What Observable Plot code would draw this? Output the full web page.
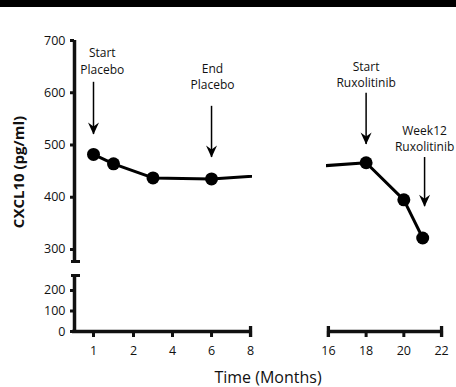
<!DOCTYPE html>
<html><head><meta charset="utf-8">
<script src="https://cdn.jsdelivr.net/npm/d3@7"></script>
<script src="https://cdn.jsdelivr.net/npm/@observablehq/plot@0.6"></script>
<style>
html,body{margin:0;padding:0;background:#fff;}
#chart{position:relative;width:456px;height:387px;overflow:hidden;font-family:"Open Sans",sans-serif;color:#111;}
#chart svg{position:absolute;left:0;top:0;}
#topbar{position:absolute;left:0;top:0;width:456px;height:7px;background:#000;}
#xtitle{position:absolute;left:168px;top:366px;width:200px;height:22px;line-height:22px;text-align:center;font-size:16px;}
#ytitle{position:absolute;left:-82px;top:161px;width:200px;height:22px;line-height:22px;text-align:center;font-size:15px;font-weight:bold;transform:rotate(-90deg);transform-origin:50% 50%;}
</style></head><body><div id="chart"><div id="topbar"></div></div>
<script>
// data
const months = [1, 1.5, 3, 6, 18, 20, 21];
const cxcl10 = [482, 464, 437, 435, 466, 395, 322];
const arrowMonth = [1, 6, 18, 21.1];
const arrowTop = [620, 574, 599, 476];
const arrowTip = [520, 476, 501, 382];
const noteMonth = [1.22, 6.05, 18, 21.1];
const noteValue = [662, 632, 637, 513];
const noteText = ["Start\nPlacebo", "End\nPlacebo", "Start\nRuxolitinib", "Week12\nRuxolitinib"];
const upperTicks = [300, 400, 500, 600, 700];
const lowerTicks = [0, 100, 200];
const leftTicks = [1, 2, 4, 6, 8];
const rightTicks = [16, 18, 20, 22];
const upperDomain = [277, 700];
const lowerDomain = [0, 273];
const leftDomain = [0.5, 1, 2, 8.1];
const rightDomain = [15.9, 22.05];

const pts = months.map((m, i) => ({m, v: cxcl10[i]}));
const arrows = arrowMonth.map((m, i) => ({m, top: arrowTop[i], tip: arrowTip[i]}));
const notes = noteMonth.map((m, i) => ({m, v: noteValue[i], t: noteText[i]}));

const W = 456, H = 387;
const dims = {
  left: {marginLeft: 74, marginRight: 204},
  right: {marginLeft: 326, marginRight: 14},
  upper: {marginTop: 40, marginBottom: 126},
  lower: {marginTop: 275, marginBottom: 56}
};
const leftX = {type: "linear", domain: leftDomain, range: [74, 93, 133, 252]};
const rightX = {type: "linear", domain: rightDomain};
const style = {background: "transparent", overflow: "visible", fontFamily: "Open Sans, sans-serif", color: "#111"};
const head = {draw(ctx) { ctx.moveTo(0, 0); ctx.lineTo(-5.5, -12); ctx.lineTo(0, -8); ctx.lineTo(5.5, -12); ctx.closePath(); }};

function dataMarks(filt) {
  return [
    Plot.line(pts, {x: "m", y: "v", stroke: "#000", strokeWidth: 3, clip: true}),
    Plot.dot(pts, {x: "m", y: "v", r: 6.5, fill: "#000", stroke: "none", clip: true}),
    Plot.ruleX(arrows, {filter: d => filt(d.m), x: "m", y1: "top", y2: "tip", stroke: "#000", strokeWidth: 1.5}),
    Plot.dot(arrows, {filter: d => filt(d.m), x: "m", y: "tip", symbol: head, fill: "#000", stroke: "none"}),
    Plot.text(notes, {filter: d => filt(d.m), x: "m", y: "v", text: "t", fontSize: 12, lineHeight: 1.35, fill: "#111"})
  ];
}
const axisText = {fontSize: 12.5, fill: "#111", tickFormat: d => String(d)};

const UL = Plot.plot({
  width: W, height: H, ...dims.left, ...dims.upper, style,
  x: {...leftX, axis: null}, y: {domain: upperDomain, label: null},
  marks: [
    Plot.ruleX([leftDomain[0]], {y1: upperDomain[0], y2: upperDomain[1], strokeWidth: 3.5}),
    Plot.ruleY([upperDomain[0]], {x1: leftDomain[0], x2: leftDomain[0], insetLeft: -3, insetRight: -6, strokeWidth: 3}),
    Plot.axisY({ticks: upperTicks, tickSize: 4, tickPadding: 5, strokeWidth: 3, label: null, ...axisText}),
    ...dataMarks(m => m < 12)
  ]
});
const UR = Plot.plot({
  width: W, height: H, ...dims.right, ...dims.upper, style,
  x: {...rightX, axis: null}, y: {domain: upperDomain, axis: null},
  marks: dataMarks(m => m >= 12)
});
const LL = Plot.plot({
  width: W, height: H, ...dims.left, ...dims.lower, style,
  x: {...leftX, label: null}, y: {domain: lowerDomain, label: null},
  marks: [
    Plot.ruleX([leftDomain[0]], {y1: lowerDomain[0], y2: lowerDomain[1], strokeWidth: 3.5}),
    Plot.ruleY([lowerDomain[1]], {x1: leftDomain[0], x2: leftDomain[0], insetLeft: -3, insetRight: -6, strokeWidth: 3}),
    Plot.ruleY([0], {x1: leftDomain[0], x2: 8, insetLeft: -2, strokeWidth: 3.5}),
    Plot.ruleX([8], {y1: 0, y2: 0, insetTop: 6, insetBottom: 5, strokeWidth: 3.3}),
    Plot.axisY({ticks: lowerTicks, tickSize: 4, tickPadding: 5, strokeWidth: 3, label: null, ...axisText}),
    Plot.axisX({ticks: leftTicks, tickSize: 6, tickPadding: 9, strokeWidth: 3, label: null, ...axisText})
  ]
});
const LR = Plot.plot({
  width: W, height: H, ...dims.right, ...dims.lower, style,
  x: {...rightX, label: null}, y: {domain: lowerDomain, axis: null},
  marks: [
    Plot.ruleY([0], {x1: rightTicks[0], x2: rightTicks[rightTicks.length - 1], strokeWidth: 3.5}),
    Plot.ruleX([rightTicks[0], rightTicks[rightTicks.length - 1]], {y1: 0, y2: 0, insetTop: 6, insetBottom: 5, strokeWidth: 3.3}),
    Plot.axisX({ticks: rightTicks, tickSize: 6, tickPadding: 9, strokeWidth: 3, label: null, ...axisText})
  ]
});
const chart = document.getElementById("chart");
[LL, LR, UL, UR].forEach(s => chart.appendChild(s));
const xt = document.createElement("div"); xt.id = "xtitle"; xt.textContent = "Time (Months)"; chart.appendChild(xt);
const yt = document.createElement("div"); yt.id = "ytitle"; yt.textContent = "CXCL10 (pg/ml)"; chart.appendChild(yt);
</script></body></html>
